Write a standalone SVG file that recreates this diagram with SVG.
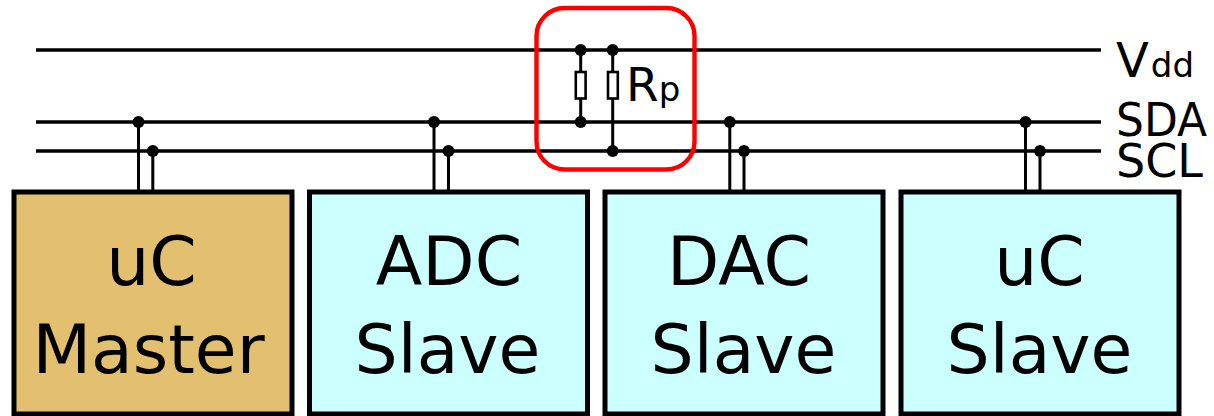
<svg xmlns="http://www.w3.org/2000/svg" width="1214" height="416" viewBox="0 0 1214 416">
<style>
text{font-family:"DejaVu Sans",sans-serif;fill:#000}
.box{stroke:#000;stroke-width:5}
.bl{font-size:68px;text-anchor:middle}
.lab{font-size:46px}
.sm{font-size:34px}
.bus{stroke:#000;stroke-width:3.6;fill:none}
.w{stroke:#000;stroke-width:3;fill:none}
.r{stroke:#000;stroke-width:2.6;fill:#fff}
</style>
<defs><circle id="dot" r="6" fill="#000"/></defs>
<g id="connectors">
<path class="bus" d="M36 50H1101M36 122H1101M36 151H1101"/>
<path class="w" d="M138.500 122V192M152.800 151V192M434 122V192M448.500 151V192M729.800 122V192M744 151V192M1025.500 122V192M1040 151V192M580.700 50V122M612.700 50V151"/>
<use href="#dot" x="138.500" y="122"/><use href="#dot" x="152.800" y="151"/>
<use href="#dot" x="434" y="122"/><use href="#dot" x="448.500" y="151"/>
<use href="#dot" x="729.800" y="122"/><use href="#dot" x="744" y="151"/>
<use href="#dot" x="1025.500" y="122"/><use href="#dot" x="1040" y="151"/>
<use href="#dot" x="580.700" y="50"/><use href="#dot" x="612.700" y="50"/>
<use href="#dot" x="580.700" y="122"/><use href="#dot" x="612.700" y="151"/>
</g>
<g id="resistors">
<rect class="r" x="575.800" y="72" width="9.800" height="26.500"/>
<rect class="r" x="608" y="72" width="9.800" height="26.500"/>
</g>
<g id="highlight"><rect x="536.500" y="8" width="158" height="161.500" rx="28" fill="none" stroke="#f00" stroke-width="4.400"/></g>
<g id="master"><rect class="box" x="14" y="192" width="278" height="222" fill="#e3c070"/>
<text class="bl" x="151.500" y="285">uC</text><text class="bl" x="148.500" y="373">Master</text></g>
<g id="adc"><rect class="box" x="309.500" y="192" width="278" height="222" fill="#ccffff"/>
<text class="bl" x="449" y="285">ADC</text><text class="bl" x="447.500" y="373">Slave</text></g>
<g id="dac"><rect class="box" x="605" y="192" width="278" height="222" fill="#ccffff"/>
<text class="bl" x="739" y="285">DAC</text><text class="bl" x="743.500" y="373">Slave</text></g>
<g id="uc-slave"><rect class="box" x="901" y="192" width="278" height="222" fill="#ccffff"/>
<text class="bl" x="1039.500" y="285">uC</text><text class="bl" x="1039.500" y="373">Slave</text></g>
<g id="labels">
<text class="lab" x="626" y="101" font-size="47" style="font-size:47px">R<tspan class="sm">p</tspan></text>
<text class="lab" x="1116" y="77" style="font-size:48px">V<tspan class="sm" dx="2">dd</tspan></text>
<text class="lab" x="1116" y="136" textLength="91" lengthAdjust="spacingAndGlyphs">SDA</text>
<text class="lab" x="1116" y="177" textLength="87" lengthAdjust="spacingAndGlyphs">SCL</text>
</g>
</svg>
